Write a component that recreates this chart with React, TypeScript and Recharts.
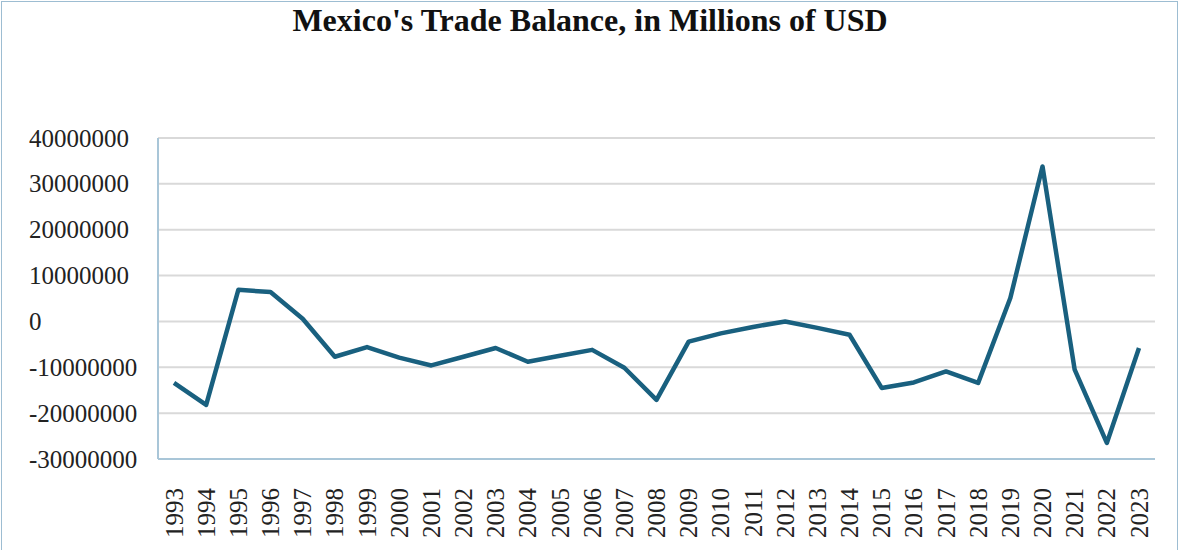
import React from "react";
import { LineChart, Line, XAxis, YAxis, CartesianGrid } from "recharts";

const years = [
  "1993","1994","1995","1996","1997","1998","1999","2000","2001","2002",
  "2003","2004","2005","2006","2007","2008","2009","2010","2011","2012",
  "2013","2014","2015","2016","2017","2018","2019","2020","2021","2022","2023",
];
const balance = [
  -13400000, -18200000, 6900000, 6400000, 600000, -7700000, -5600000, -7900000, -9600000, -7700000,
  -5800000, -8800000, -7500000, -6200000, -10100000, -17100000, -4400000, -2600000, -1200000, 0,
  -1400000, -2900000, -14500000, -13300000, -10900000, -13400000, 5100000, 33800000, -10500000, -26500000,
  -5800000,
];
const yTicks = [-30000000, -20000000, -10000000, 0, 10000000, 20000000, 30000000, 40000000];
const title = "Mexico's Trade Balance, in Millions of USD";

const data = years.map((y, i) => ({ year: y, value: balance[i] }));

const FONT = "'Liberation Serif', 'Times New Roman', serif";

const XTick = (props: any) => {
  const { x, y, payload } = props;
  return (
    <text
      x={x}
      y={y}
      transform={`rotate(-90, ${x}, ${y})`}
      textAnchor="end"
      dominantBaseline="central"
      fontFamily={FONT}
      fontSize={25}
      fill="#222"
    >
      {payload.value}
    </text>
  );
};

const YTick = (props: any) => {
  const { y, payload } = props;
  return (
    <text
      x={29}
      y={y}
      textAnchor="start"
      dominantBaseline="central"
      fontFamily={FONT}
      fontSize={25}
      fill="#222"
    >
      {payload.value}
    </text>
  );
};

export default function App() {
  return (
    <div style={{ position: "absolute", left: 0, top: 0, width: 1179, height: 550, background: "#fff", overflow: "hidden" }}>
      <div
        style={{
          position: "absolute",
          left: 1,
          top: 1,
          width: 1177,
          height: 560,
          border: "1.5px solid #9dbdd2",
          boxSizing: "border-box",
        }}
      />
      <svg style={{ position: "absolute", left: 0, top: 0 }} width={1179} height={60}>
        <text
          x={590}
          y={31}
          textAnchor="middle"
          fontFamily={FONT}
          fontWeight="bold"
          fontSize={32}
          fill="#111"
        >
          {title}
        </text>
      </svg>
      <div style={{ position: "absolute", left: 0, top: 0 }}>
        <LineChart width={1179} height={550} data={data} margin={{ top: 138, right: 24, bottom: 0, left: 0 }}>
          <CartesianGrid vertical={false} stroke="#d9d9d9" strokeWidth={2} />
          <XAxis
            dataKey="year"
            height={91}
            interval={0}
            tickLine={false}
            tickSize={0}
            tickMargin={29}
            padding={{ left: 16, right: 16 }}
            axisLine={{ stroke: "#a9c6d8", strokeWidth: 2 }}
            tick={<XTick />}
          />
          <XAxis
            xAxisId="top"
            orientation="top"
            dataKey="year"
            height={0}
            tick={false}
            tickLine={false}
            axisLine={{ stroke: "#a9c6d8", strokeWidth: 2 }}
          />
          <YAxis
            domain={[-30000000, 40000000]}
            ticks={yTicks}
            interval={0}
            width={158}
            tickLine={false}
            tickSize={0}
            axisLine={{ stroke: "#a9c6d8", strokeWidth: 2 }}
            tick={<YTick />}
          />
          <YAxis
            yAxisId="right"
            orientation="right"
            width={0}
            domain={[-30000000, 40000000]}
            tick={false}
            tickLine={false}
            axisLine={{ stroke: "#6f9fbf", strokeWidth: 1.5 }}
          />
          <Line
            type="linear"
            dataKey="value"
            stroke="#19607f"
            strokeWidth={4.5}
            strokeLinejoin="round"
            dot={false}
            activeDot={false}
            isAnimationActive={false}
          />
        </LineChart>
      </div>
    </div>
  );
}
